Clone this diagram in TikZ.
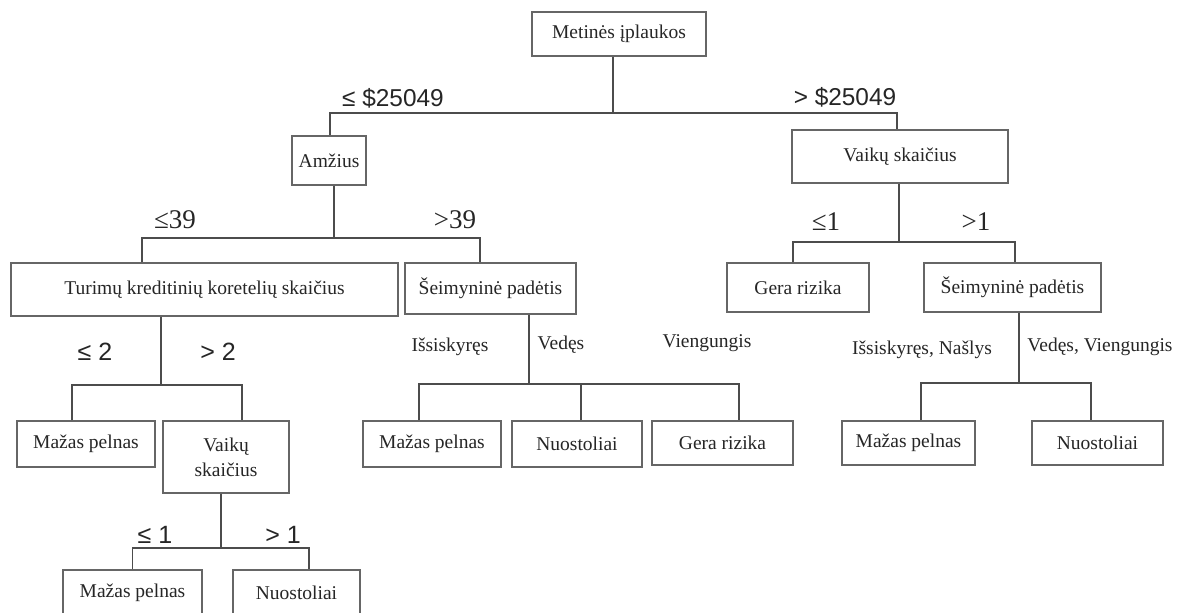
\documentclass[tikz,border=0pt]{standalone}
\usepackage{fontspec}
\setmainfont{Liberation Serif}
\newfontfamily\sansf{Liberation Sans}
\begin{document}
\begin{tikzpicture}[x=0.5pt,y=-0.5pt,
  box/.style={draw=black!60,line width=0.6pt,inner sep=0pt,text=black!85,
    font=\fontsize{9.75}{12.5}\selectfont,align=center},
  conn/.style={draw=black!70,line width=0.65pt},
  slab/.style={text=black!85,inner sep=0pt,font=\sansf\fontsize{12.2}{14}\selectfont},
  slabs/.style={text=black!85,inner sep=0pt,font=\sansf\fontsize{12.5}{14}\selectfont},
  blab/.style={text=black!85,inner sep=0pt,font=\fontsize{13.5}{15}\selectfont},
  tlab/.style={text=black!85,inner sep=0pt,font=\fontsize{9.75}{12}\selectfont}]
\fill[white] (0,0) rectangle (1179,612);
\useasboundingbox (0,0) rectangle (1179,612);
% boxes
\node[box,minimum width=87pt,minimum height=22pt] (root) at (619,34) {Metinės įplaukos};
\node[box,minimum width=37pt,minimum height=24.5pt] (amz) at (329,160.5) {Amžius};
\node[box,minimum width=108pt,minimum height=26.5pt] (vk) at (900,156.5) {Vaikų skaičius};
\node[box,minimum width=193.5pt,minimum height=26.5pt] (tur) at (204.5,289.5) {Turimų kreditinių koretelių skaičius};
\node[box,minimum width=85.5pt,minimum height=25.5pt] (sl) at (490.5,288.5) {Šeimyninė padėtis};
\node[box,minimum width=71pt,minimum height=24.5pt] (gr1) at (798,287.5) {Gera rizika};
\node[box,minimum width=88.5pt,minimum height=24.5pt] (sr) at (1012.5,287.5) {Šeimyninė padėtis};
\node[box,minimum width=69pt,minimum height=23pt] (mp1) at (86,444) {Mažas pelnas};
\node[box,minimum width=63pt,minimum height=36pt] (vk2) at (226,457) {Vaikų\\skaičius};
\node[box,minimum width=69pt,minimum height=23pt] (mp2) at (432,444) {Mažas pelnas};
\node[box,minimum width=65pt,minimum height=23pt] (nu2) at (577,444) {Nuostoliai};
\node[box,minimum width=70.5pt,minimum height=22pt] (gr2) at (722.5,443) {Gera rizika};
\node[box,minimum width=66.5pt,minimum height=22pt] (mp3) at (908.5,443) {Mažas pelnas};
\node[box,minimum width=65.5pt,minimum height=22pt] (nu3) at (1097.5,443) {Nuostoliai};
\node[box,minimum width=69.5pt,minimum height=23pt] (mp4) at (132.5,593) {Mažas pelnas};
\node[box,minimum width=63.5pt,minimum height=23pt] (nu4) at (296.5,593) {Nuostoliai};
% junctions
\coordinate (j1) at (613,113);
\coordinate (j2) at (334,238);
\coordinate (j3) at (899,242);
\coordinate (j4) at (161,385);
\coordinate (j5) at (529,384);
\coordinate (j6) at (1019,383);
\coordinate (j7) at (221,548);
% connectors
\draw[conn] (root.south -| j1) -- (j1);
\draw[conn] ([xshift=0.5pt]amz.north) |- (j1) -| ([xshift=-1.5pt]vk.north);
\draw[conn] (amz.south -| j2) -- (j2);
\draw[conn] ([xshift=-31.25pt]tur.north) |- (j2) -| ([xshift=-5.25pt]sl.north);
\draw[conn] (vk.south -| j3) -- (j3);
\draw[conn] ([xshift=-2.5pt]gr1.north) |- (j3) -| ([xshift=1.25pt]sr.north);
\draw[conn] (tur.south -| j4) -- (j4);
\draw[conn] ([xshift=-7pt]mp1.north) |- (j4) -| ([xshift=8pt]vk2.north);
\draw[conn] (sl.south -| j5) -- (j5);
\draw[conn] ([xshift=-6.5pt]mp2.north) |- (j5) -| ([xshift=8.25pt]gr2.north);
\draw[conn] ([xshift=2pt]nu2.north) -- ++(0,18.5pt);
\draw[conn] (sr.south -| j6) -- (j6);
\draw[conn] ([xshift=6.25pt]mp3.north) |- (j6) -| ([xshift=-3.25pt]nu3.north);
\draw[conn] (vk2.south -| j7) -- (j7);
\draw[conn] (mp4.north) |- (j7) -| ([xshift=6.25pt]nu4.north);
% labels
\node[slab] (l1) at (393,98) {≤ \$25049};
\node[slab] (l2) at (845,97) {> \$25049};
\node[blab] (l3) at (175,220) {≤39};
\node[blab] (l4) at (455,220) {>39};
\node[blab] (l5) at (826,222) {≤1};
\node[blab] (l6) at (976,222) {>1};
\node[slabs] (l7) at (95,352) {≤ 2};
\node[slabs] (l8) at (218,352) {> 2};
\node[tlab] (l9) at (450,347) {Išsiskyręs};
\node[tlab] (l10) at (561,345) {Vedęs};
\node[tlab] (l11) at (707,343) {Viengungis};
\node[tlab] (l12) at (922,350) {Išsiskyręs, Našlys};
\node[tlab] (l13) at (1100,347) {Vedęs, Viengungis};
\node[slabs] (l14) at (155,535) {≤ 1};
\node[slabs] (l15) at (283,535) {> 1};
\end{tikzpicture}
\end{document}
